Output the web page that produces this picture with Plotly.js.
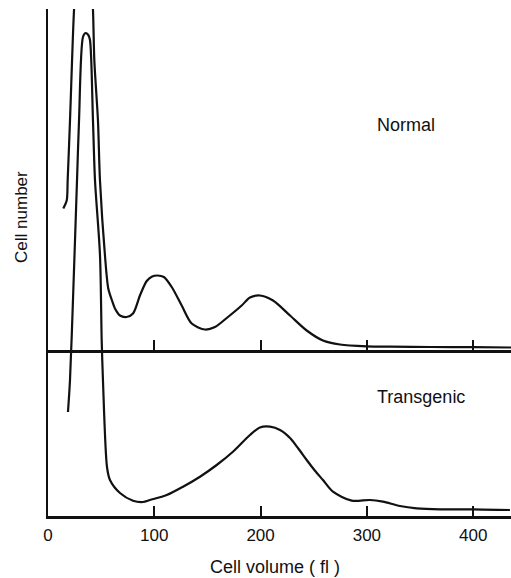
<!DOCTYPE html>
<html>
<head>
<meta charset="utf-8">
<script src="https://cdn.plot.ly/plotly-3.0.1.min.js"></script>
<style>html,body{margin:0;padding:0;background:#fff;}</style>
</head>
<body>
<div id="chart" style="width:511px;height:578px;"></div>
<script>
// Cell volume (fl) and relative cell number (arbitrary units)
const normalVolume = [14.4, 17.6, 18.5, 20.7, 24.5, 27, 33, 40, 42.3, 43.6, 47.0, 48.9, 53.6, 56.7, 60.2, 63, 67.7, 74, 80, 86.5, 92.9, 98, 103, 109, 116.4, 125.8, 135.2, 147.7, 157.1, 169.3, 182.2, 190, 199.4, 211.7, 227.7, 243.4, 258.7, 274.7, 299.8, 321.7, 360, 399.8, 435.6];
const normalCount  = [28.5, 30.1, 34.1, 46.1, 68.3, 76, 88, 76, 68.3, 58.1, 46.1, 34.1, 19.1, 12.5, 10.1, 8.5, 7.1, 6.8, 7.5, 11.1, 14.0, 14.9, 15.1, 14.8, 12.8, 9.1, 5.5, 4.3, 4.8, 6.8, 9.1, 10.7, 11.1, 10.1, 7.1, 4.1, 2.1, 1.3, 0.94, 0.86, 0.8, 0.76, 0.7];

const transVolume = [18.8, 20.7, 23.5, 27.3, 29.2, 32.9, 35.3, 37.9, 39.5, 42.3, 44.2, 48.9, 50.5, 51.7, 55.5, 58.3, 67.7, 80, 89.4, 96, 111.7, 127, 143, 158.7, 174, 190, 199.4, 208.8, 218.3, 227.7, 235.5, 243.4, 251, 258.7, 268.1, 285.7, 302.9, 315.1, 331.1, 346.8, 368.8, 399.8, 434.6];
const transCount  = [20.8, 27.2, 43.2, 67.2, 79.2, 95.8, 96.6, 96.2, 95.2, 79.2, 67.2, 52.2, 35.2, 27.2, 9.8, 7.2, 4.6, 3.06, 2.8, 3.2, 4.2, 5.86, 7.86, 10.2, 12.86, 16.2, 17.7, 17.86, 17.2, 15.6, 13.5, 11.2, 9.1, 7.2, 4.86, 3.06, 3.2, 2.86, 2.0, 1.54, 1.34, 1.34, 1.2];

const tickValues = [0, 100, 200, 300, 400];
const tickLabels = ['0', '100', '200', '300', '400'];
const panelLabels = ['Normal', 'Transgenic'];

const FONT = 'Liberation Sans, Arial, sans-serif';

const traces = [
  {x: transVolume, y: transCount, type: 'scatter', mode: 'lines', xaxis: 'x', yaxis: 'y',
   line: {color: '#111', width: 2.2, shape: 'spline', smoothing: 0.8}, hoverinfo: 'skip'},
  {x: normalVolume, y: normalCount, type: 'scatter', mode: 'lines', xaxis: 'x2', yaxis: 'y2',
   line: {color: '#111', width: 2.2, shape: 'spline', smoothing: 0.8}, hoverinfo: 'skip'}
];

const layout = {
  width: 511, height: 578,
  margin: {l: 48, r: 0, t: 9, b: 62},
  paper_bgcolor: '#fff', plot_bgcolor: '#fff',
  showlegend: false,
  font: {family: FONT, color: '#111', size: 16},
  xaxis: {
    range: [0, 435.6], showgrid: false, zeroline: false,
    showline: true, linecolor: '#111', linewidth: 2.5,
    ticks: 'inside', ticklen: 10, tickwidth: 2, tickcolor: '#111',
    tickvals: tickValues, ticktext: tickLabels,
    tickfont: {family: FONT, size: 17, color: '#111'},
    ticklabelstandoff: 2
  },
  xaxis2: {
    range: [0, 435.6], overlaying: 'x', anchor: 'free', position: 0.3254,
    showgrid: false, zeroline: false,
    showline: true, linecolor: '#111', linewidth: 2.5,
    ticks: 'inside', ticklen: 10, tickwidth: 2, tickcolor: '#111',
    tickvals: tickValues, showticklabels: false
  },
  yaxis: {
    range: [0, 101.4], showgrid: false, zeroline: false,
    showline: true, linecolor: '#111', linewidth: 2.5,
    ticks: '', showticklabels: false
  },
  yaxis2: {
    overlaying: 'y', range: [-33.0, 68.4], visible: false,
    showgrid: false, zeroline: false
  },
  annotations: [
    {text: 'Cell volume ( fl )', xref: 'paper', yref: 'paper', x: 0.49, y: -0.1,
     xanchor: 'center', yanchor: 'middle', showarrow: false,
     font: {family: FONT, size: 18, color: '#111'}},
    {text: 'Cell number', xref: 'paper', yref: 'paper', x: -0.056, y: 0.59,
     xanchor: 'center', yanchor: 'middle', showarrow: false, textangle: -90,
     font: {family: FONT, size: 17, color: '#111'}},
    {text: panelLabels[0], xref: 'paper', yref: 'paper', x: 0.706, y: 0.771,
     xanchor: 'left', yanchor: 'middle', showarrow: false,
     font: {family: FONT, size: 18, color: '#111'}},
    {text: panelLabels[1], xref: 'paper', yref: 'paper', x: 0.706, y: 0.234,
     xanchor: 'left', yanchor: 'middle', showarrow: false,
     font: {family: FONT, size: 18, color: '#111'}}
  ]
};

Plotly.newPlot('chart', traces, layout, {staticPlot: true, displayModeBar: false});
</script>
</body>
</html>
